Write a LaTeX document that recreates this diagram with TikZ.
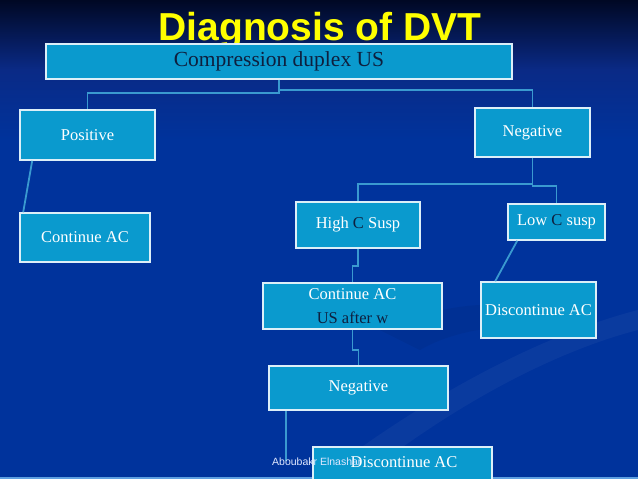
\documentclass[tikz,border=0pt]{standalone}
\usepackage{fontspec}
\setmainfont{Liberation Serif}
\newfontfamily\titlefont{Liberation Sans}
\usetikzlibrary{calc}
\definecolor{bgtop}{HTML}{000824}
\definecolor{bgmid}{HTML}{0A2A86}
\definecolor{bgblue}{HTML}{00339C}
\definecolor{boxfill}{HTML}{0A9ACE}
\definecolor{boxline}{HTML}{DCEFF8}
\definecolor{conn}{HTML}{3A9AD0}
\definecolor{darktxt}{HTML}{0E1F3E}
\definecolor{ttlyellow}{HTML}{FFFF00}
\definecolor{edgeline}{HTML}{5FA0E0}
\definecolor{foottxt}{HTML}{E1E8FF}
\tikzset{
  boxnode/.style={draw=boxline, line width=1.6pt, fill=boxfill, inner sep=0pt,
    text=white, font=\fontsize{16.5}{20}\selectfont, align=center},
  link/.style={draw=conn, line width=1.8pt},
}
\begin{document}
\begin{tikzpicture}[x=1pt,y=-1pt]
\useasboundingbox (0,0) rectangle (638,479);
% background
\shade[top color=bgtop, bottom color=bgmid] (0,0) rectangle (638,70);
\shade[top color=bgmid, bottom color=bgblue] (0,70) rectangle (638,140);
\fill[bgblue] (0,140) rectangle (638,479);
\fill[white, opacity=0.04] (330,470) .. controls (450,380) and (560,330) .. (638,310)
  -- (638,330) .. controls (560,350) and (460,400) .. (360,479) -- cycle;
\fill[black, opacity=0.05] (380,330) .. controls (470,290) and (560,300) .. (600,340)
  .. controls (560,320) and (470,320) .. (420,350) -- cycle;
\fill[edgeline] (0,476.5) rectangle (638,479);

% title
\node[anchor=base, text=ttlyellow, inner sep=0pt,
  font=\titlefont\bfseries\fontsize{39}{44}\selectfont] (title) at (320,41) {Diagnosis of DVT};

% boxes
\node[boxnode, minimum width=466pt, minimum height=35pt, text=darktxt,
  font=\fontsize{21.5}{24}\selectfont] (comp) at (279,61.5) {\raisebox{-1.5pt}{Compression duplex US}};
\node[boxnode, minimum width=135pt, minimum height=50pt] (pos) at (87.5,135) {Positive};
\node[boxnode, minimum width=115pt, minimum height=49pt] (neg) at (532.5,132.5) {Negative};
\node[boxnode, minimum width=130pt, minimum height=49pt] (contL) at (85,237.5) {Continue AC};
\node[boxnode, minimum width=124pt, minimum height=46pt] (high) at (358,225) {High \textcolor{darktxt}{C} Susp};
\node[boxnode, minimum width=97pt, minimum height=36pt] (low) at (556.5,222) {Low \textcolor{darktxt}{C} susp};
\node[boxnode, minimum width=179pt, minimum height=46pt] (cont2) at (352.5,306)
  {Continue AC\\[4pt]\textcolor{darktxt}{US after w}};
\node[boxnode, minimum width=115pt, minimum height=56pt] (discR) at (538.5,310) {Discontinue AC};
\node[boxnode, minimum width=179pt, minimum height=40pt, anchor=north] (discB) at (402.5,446) {};
\node[boxnode, minimum width=179pt, minimum height=44pt] (neg2) at (358.5,388) {Negative};
\node[text=white, inner sep=0pt, font=\fontsize{16.5}{20}\selectfont] (discBtxt) at (404,462) {Discontinue AC};

% connectors
\draw[link] (comp.south) -- ++(0,13) -| (pos.north);
\draw[link] (comp.south) -- ++(0,10) -| (neg.north);
\draw[link] ($(pos.south west)+(13,0)$) -- ($(contL.north west)+(4,0)$);
\draw[link] (neg.south) -- ++(0,26) -| (high.north);
\draw[link] (neg.south) -- ++(0,28) -| (low.north);
\draw[link] ($(low.south west)+(10,0)$) -- ($(discR.north west)+(15,0)$);
\draw[link] (high.south) -- ++(0,17) -| (cont2.north);
\draw[link] (cont2.south) -- ++(0,20) -| (neg2.north);
\coordinate (tail) at ($(neg2.south west)+(18,50)$);
\draw[link] ($(neg2.south west)+(18,0)$) -- (tail);

% footer
\node[anchor=base west, inner sep=0pt, text=foottxt,
  font=\titlefont\fontsize{10.5}{12}\selectfont] (foot) at (272,465) {Aboubakr Elnashar};
\end{tikzpicture}
\end{document}
